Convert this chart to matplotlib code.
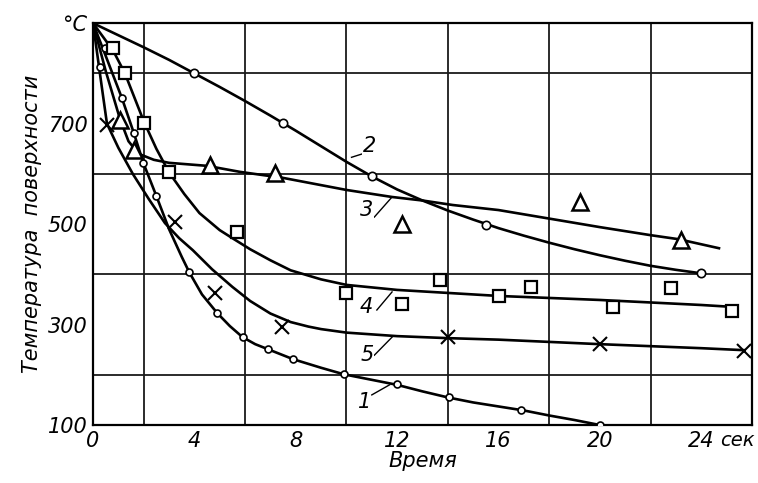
import matplotlib
matplotlib.use("Agg")
import matplotlib.pyplot as plt

# ---- data ----
# curve lines (time, sec ; temperature, °C)
c1_x = [0, 0.5, 1.14, 1.6, 2.0, 2.5, 3.0, 3.5, 3.8, 4.3, 4.9, 5.4, 5.9, 6.4, 6.9, 7.9, 9.0, 9.9, 11, 12, 13, 14, 15, 16, 17, 18, 19, 20]
c1_y = [900, 835, 751, 683, 620, 556, 490, 435, 404, 360, 323, 297, 275, 261, 251, 231, 214, 201, 190, 180, 167, 155, 145, 137, 129, 119, 110, 100]
c2_x = [0, 1, 2, 3, 4, 5, 6, 7, 7.5, 8, 9, 10, 11, 12, 13, 14, 15, 16, 17, 18, 19, 20, 21, 22, 23, 24]
c2_y = [900, 876, 852, 827, 800, 773, 745, 716, 701, 686, 655, 624, 595, 569, 547, 527, 509, 492, 477, 463, 450, 438, 427, 417, 409, 402]
c3_x = [0, 0.5, 1.06, 1.4, 1.8, 2.4, 3.0, 4.5, 5.8, 7.5, 10, 11.8, 13, 14.2, 16, 18, 20, 22, 23.1, 24.7]
c3_y = [900, 805, 710, 665, 640, 628, 622, 616, 604, 592, 568, 554, 547, 538, 528, 511, 494, 478, 470, 452]
c4_x = [0, 0.8, 1.26, 2.0, 2.5, 3.0, 3.6, 4.2, 5.0, 5.5, 6.2, 7.0, 7.8, 9, 10, 12, 14, 16, 20, 24, 25.3]
c4_y = [900, 845, 800, 705, 650, 603, 560, 522, 488, 472, 450, 428, 408, 390, 379, 369, 363, 357, 349, 339, 335]
c5_x = [0, 0.3, 0.55, 1.0, 1.57, 2.2, 2.84, 3.4, 3.94, 4.7, 5.5, 6.2, 7.0, 7.8, 8.5, 9, 10, 12, 14, 16, 20, 24, 25.7]
c5_y = [900, 790, 700, 652, 600, 550, 502, 472, 448, 410, 375, 347, 322, 305, 296, 291, 284, 277, 273, 270, 261, 253, 249]

# measured points (markers)
m1_x = [0.28, 0.47, 1.14, 1.6, 1.97, 2.5, 3.8, 4.9, 5.9, 6.9, 7.9, 9.9, 12.0, 14.05, 16.9, 20.0]
m1_y = [812, 850, 751, 681, 621, 556, 404, 323, 275, 251, 231, 201, 181, 155, 130, 100]
m2_x = [4, 7.5, 11, 15.5, 24]
m2_y = [800, 701, 595, 499, 402]
m3_x = [1.06, 1.6, 4.6, 7.2, 12.2, 19.2, 23.2]
m3_y = [707, 647, 618, 601, 500, 545, 468]
m4_x = [0.8, 1.26, 2.0, 3.0, 5.67, 10, 12.2, 13.7, 16, 17.3, 20.5, 22.8, 25.2]
m4_y = [850, 800, 701, 603, 484, 363, 341, 389, 357, 375, 335, 373, 327]
m5_x = [0.55, 3.23, 4.8, 7.44, 14, 20, 25.7]
m5_y = [698, 504, 363, 295, 275, 262, 248]

curve_labels = ["1", "2", "3", "4", "5"]
label_pos = [(10.7, 146), (10.9, 655), (10.8, 528), (10.8, 335), (10.8, 239)]
leader_from = [(11.0, 160), (10.2, 633), (11.1, 514), (11.2, 329), (11.1, 239)]
leader_to = [(11.7, 180), (10.7, 641), (11.8, 554), (11.8, 365), (11.8, 275)]

x_ticks = [0, 4, 8, 12, 16, 20, 24]
y_ticks = [100, 300, 500, 700, 900]
y_ticklabels = ["100", "300", "500", "700", "°C"]

# ---- figure ----
fig = plt.figure(figsize=(7.58, 4.83), dpi=100)
ax = fig.add_axes([0.1227, 0.120, 0.8693, 0.832])
ax.set_xlim(0, 26)
ax.set_ylim(100, 900)

ax.set_xticks(range(0, 27, 2), minor=True)
ax.set_yticks(range(100, 901, 100), minor=True)
ax.grid(which="minor", color="#1a1a1a", lw=1.3)
ax.set_xticks(x_ticks)
ax.set_yticks(y_ticks)
ax.set_yticklabels(y_ticklabels)
ax.tick_params(which="both", length=0, labelsize=15, pad=4)
for lab in ax.get_xticklabels() + ax.get_yticklabels():
    lab.set_fontstyle("italic")
for s in ax.spines.values():
    s.set_linewidth(1.6)
    s.set_color("black")

lw = 1.9
ax.plot(c1_x, c1_y, color="black", lw=lw)
ax.plot(c2_x, c2_y, color="black", lw=lw)
ax.plot(c3_x, c3_y, color="black", lw=lw)
ax.plot(c4_x, c4_y, color="black", lw=lw)
ax.plot(c5_x, c5_y, color="black", lw=lw)

ax.plot(m1_x, m1_y, ls="none", marker="o", ms=5, mfc="white", mec="black", mew=1.2, zorder=5)
ax.plot(m2_x, m2_y, ls="none", marker="o", ms=6, mfc="white", mec="black", mew=1.2, zorder=5)
ax.plot(m3_x, m3_y, ls="none", marker="^", ms=11, mfc="white", mec="black", mew=1.8, zorder=5)
ax.plot(m4_x, m4_y, ls="none", marker="s", ms=9, mfc="white", mec="black", mew=1.6, zorder=5)
ax.plot(m5_x, m5_y, ls="none", marker="x", ms=10, mec="black", mew=1.5, zorder=5)

for t, p, a, b in zip(curve_labels, label_pos, leader_from, leader_to):
    ax.text(p[0], p[1], t, fontsize=15, fontstyle="italic", ha="center", va="center",
            bbox=dict(facecolor="white", edgecolor="none", pad=0.5))
    ax.plot([a[0], b[0]], [a[1], b[1]], color="black", lw=1.0)

ax.annotate("сек", xy=(24.75, 0), xycoords=("data", "axes fraction"), xytext=(0, -4),
            textcoords="offset points", ha="left", va="top", fontsize=14,
            fontstyle="italic")
ax.set_xlabel("Время", fontsize=15, fontstyle="italic", labelpad=0)
ax.set_ylabel("Температура  поверхности", fontsize=15, fontstyle="italic", labelpad=4)

fig.savefig("out.png", dpi=100)
